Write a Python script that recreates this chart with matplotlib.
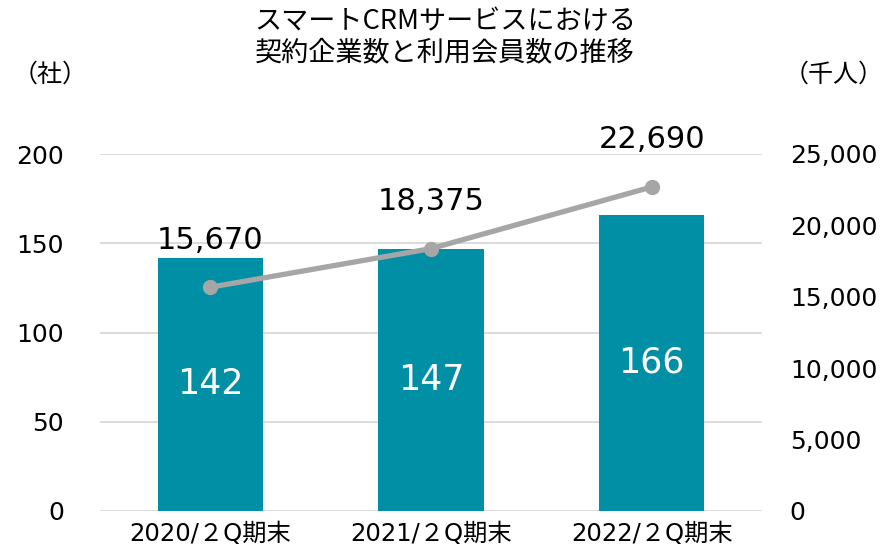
import matplotlib
matplotlib.use("Agg")
import matplotlib.pyplot as plt
import numpy as np

plt.rcParams['font.family'] = ['DejaVu Sans', 'Noto Sans CJK JP']

categories = ["2020/２Q期末", "2021/２Q期末", "2022/２Q期末"]
companies = [142, 147, 166]
members = [15670, 18375, 22690]
left_ticks = [0, 50, 100, 150, 200]
right_ticks = [0, 5000, 10000, 15000, 20000, 25000]

bar_color = "#008FA5"
line_color = "#A6A6A6"
grid_color = "#D9D9D9"

fig = plt.figure(figsize=(8.85, 5.49), dpi=100)
ax = fig.add_axes([100/885, 1-511/549, 662/885, 357/549])
x = np.arange(len(categories))

ax.set_axisbelow(True)
ax.yaxis.grid(True, color=grid_color, linewidth=1.3)
bars = ax.bar(x, companies, width=0.476, color=bar_color, zorder=2)
ax.set_xlim(-0.5, len(categories) - 0.5)
ax.set_ylim(0, 200)
ax.set_yticks(left_ticks)
ax.set_yticklabels([str(v) for v in left_ticks], fontsize=18)
ax.set_xticks(x)
ax.set_xticklabels(categories, fontsize=17.5, family=['DejaVu Sans', 'Noto Sans CJK JP'])
ax.tick_params(axis='both', length=0)
ax.tick_params(axis='y', pad=26)
ax.tick_params(axis='x', pad=8)
for s in ax.spines.values():
    s.set_visible(False)

for xi, v in zip(x, companies):
    ax.text(xi, v / 2, str(v), ha='center', va='center', color='white', fontsize=25)

ax2 = ax.twinx()
ax2.set_ylim(0, 25000)
ax2.set_yticks(right_ticks)
ax2.set_yticklabels([f"{v:,}" for v in right_ticks], fontsize=18)
ax2.tick_params(axis='y', length=0, pad=20)
for s in ax2.spines.values():
    s.set_visible(False)
ax2.plot(x, members, color=line_color, linewidth=3.8, marker='o', markersize=10,
         zorder=3, solid_capstyle='round')
for xi, v in zip(x, members):
    ax2.annotate(f"{v:,}", (xi, v), xytext=(0, 34), textcoords='offset points',
                 ha='center', va='center', fontsize=22)

fig.text(445/885, 1-22/549, "スマートCRMサービスにおける", ha='center', va='center',
         fontsize=19.5, family=['Noto Sans CJK JP'])
fig.text(445/885, 1-53/549, "契約企業数と利用会員数の推移", ha='center', va='center',
         fontsize=19.5, family=['Noto Sans CJK JP'])
fig.text(50/885, 1-75/549, "（社）", ha='center', va='center', fontsize=18,
         family=['Noto Sans CJK JP'])
fig.text(834/885, 1-75/549, "（千人）", ha='center', va='center', fontsize=18,
         family=['Noto Sans CJK JP'])

fig.savefig("out.png", dpi=100)
